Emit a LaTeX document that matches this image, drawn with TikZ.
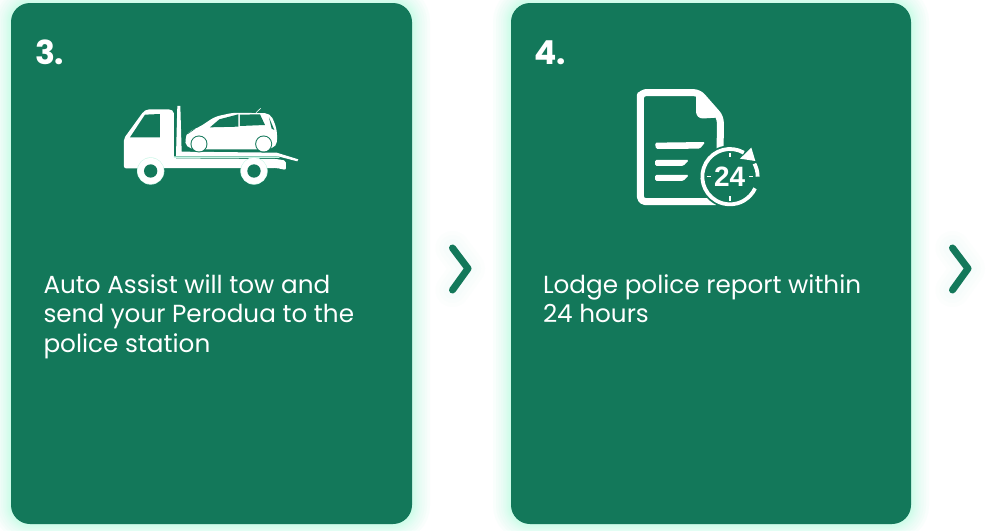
\documentclass[tikz,border=0pt]{standalone}
\usepackage{fontspec}
\setmainfont{Poppins}
\newfontfamily\digitfont{Liberation Sans}
\definecolor{cardgreen}{HTML}{13785A}
\definecolor{glowmint}{HTML}{B4FCE1}
\definecolor{ringmint}{HTML}{C8F7E6}
\tikzset{
  x=1pt,y=-1pt,
  cardbox/.style={fill=cardgreen,rounded corners=19pt},
  glowline/.style={draw=glowmint,draw opacity=0.08,rounded corners=19pt,fill=none},
  bodytext/.style={text=white,anchor=base west,inner sep=0pt,outer sep=0pt,font=\fontsize{24.7}{29}\selectfont},
  numtext/.style={text=white,anchor=base west,inner sep=0pt,outer sep=0pt,font=\fontsize{33}{33}\selectfont\bfseries},
  chevron/.style={draw=cardgreen,line width=7pt,line cap=round,line join=round},
  chevronglow/.style={draw=glowmint,draw opacity=0.035,line cap=round,line join=round},
  iconfill/.style={fill=white,draw=none},
  iconhole/.style={fill=cardgreen,draw=none},
}
\newcommand{\cardat}[2]{%
  \begin{scope}[xshift=#1 pt]
    \foreach \w in {36,30,25,20,16,13,10,8,6,4,2}{
      \draw[glowline,line width=\w pt] (11,3) rectangle (#2,524);
    }
    \fill[cardbox] (11,3) rectangle (#2,524);
  \end{scope}
}
\begin{document}
\begin{tikzpicture}
\useasboundingbox (0,0) rectangle (1001,530);
\fill[white] (0,0) rectangle (1001,530);
\begin{scope}
\clip (0,0) rectangle (1001,530);
\cardat{0}{412}
\cardat{500}{411}
\end{scope}

\node[numtext] (n3) at (35,64) {3.};
\node[numtext] (n4) at (534.5,64) {4.};

\node[bodytext] (t1a) at (43.5,293) {Auto Assist will tow and};
\node[bodytext] (t1b) at (43.5,322) {send your Perodua to the};
\node[bodytext] (t1c) at (43.5,352) {police station};
\node[bodytext] (t2a) at (543,293) {Lodge police report within};
\node[bodytext] (t2b) at (543,322) {24 hours};

\foreach \s in {0,500}{
  \begin{scope}[xshift=\s pt]
    \foreach \w in {34,26,18}{
      \draw[chevronglow,line width=\w pt] (452.5,248) -- (468,268.5) -- (452.5,290);
    }
    \draw[chevron] (452.5,248) -- (468,268.5) -- (452.5,290);
  \end{scope}
}

% tow truck (coordinates of a 3x crop)
\begin{scope}[shift={(100,90)},x=0.3333pt,y=-0.3333pt]
  \fill[iconfill,rounded corners=2pt] (72,235) -- (72,145) -- (130,65) -- (142,58) -- (212,58) -- (222,65) -- (222,205) -- (530,207) -- (558,212) -- (558,240) -- (530,234) -- cycle;
  \fill[iconhole] (90,142) -- (135,74) -- (180,72) -- (180,142) -- cycle;
  \fill[iconfill] (232,48) -- (241,48) -- (245,185) -- (530,188) -- (595,208) -- (592,214) -- (530,198) -- (228,198) -- cycle;
  \fill[ringmint] (222,199.5) -- (535,199.5) -- (540,204) -- (222,204) -- cycle;
  \fill[iconfill,rounded corners=5pt] (258,172) -- (255,145) -- (265,125) -- (300,110) -- (345,80) -- (400,68) -- (510,70) -- (525,100) -- (532,130) -- (530,170) -- (500,178) -- (290,178) -- cycle;
  \fill[iconhole] (330,112) -- (358,88) -- (415,73) -- (415,110) -- cycle;
  \fill[iconhole] (420,74) -- (480,73) -- (495,105) -- (420,108) -- cycle;
  \fill[iconhole] (507,82) -- (523,120) -- (515,116) -- cycle;
  \draw[cardgreen,line width=0.6pt] (262,132) -- (285,116);
  \draw[white,line width=0.6pt] (468,68) -- (482,55);
  \foreach \cx in {297,491}{
    \fill[cardgreen] (\cx,162) circle (25.5);
    \fill[white] (\cx,162) circle (22.5);
  }
  \foreach \cx in {152,462}{
    \fill[ringmint] (\cx,243) circle (41);
    \fill[white] (\cx,243) circle (39.5);
    \fill[cardgreen] (\cx,243) circle (20);
  }
\end{scope}

% document with 24h clock
\begin{scope}[shift={(620,80)},x=0.3333pt,y=-0.3333pt]
  \draw[white,line width=7pt,line join=round,rounded corners=5pt] (61,60) -- (61,365) -- (300,365) -- (301,112) -- (236,38) -- (61,38) -- cycle;
  \fill[white,rounded corners=3pt] (228,40) -- (304,112) -- (240,116) -- (228,104) -- cycle;
  \fill[white,rounded corners=1.5pt] (105,188) -- (256,186) -- (240,206) -- (108,207) -- cycle;
  \fill[white,rounded corners=1.5pt] (105,240) -- (207,240) -- (190,258) -- (105,258) -- cycle;
  \fill[white,rounded corners=1.5pt] (105,285) -- (207,285) -- (190,303) -- (105,303) -- cycle;
  \fill[cardgreen] (330,290) circle (94);
  \draw[white,line width=3.8pt] (330,290) ++(-60:83) arc[start angle=-60,end angle=-335,radius=83];
  \draw[white,line width=3.8pt] (413,290) arc[start angle=0,end angle=-28,radius=83];
  \fill[white] (394,203) -- (406,243) -- (360,236) -- cycle;
  \draw[white,line width=1.4pt] (330,218) -- (330,231);
  \draw[white,line width=1.4pt] (330,349) -- (330,362);
  \draw[white,line width=1.4pt] (260,290) -- (273,290);
  \draw[white,line width=1.4pt] (387,290) -- (400,290);
  \node[text=white,inner sep=0pt,font=\digitfont\bfseries\fontsize{28}{28}\selectfont] (clock) at (329,291) {24};
\end{scope}
\end{tikzpicture}
\end{document}
